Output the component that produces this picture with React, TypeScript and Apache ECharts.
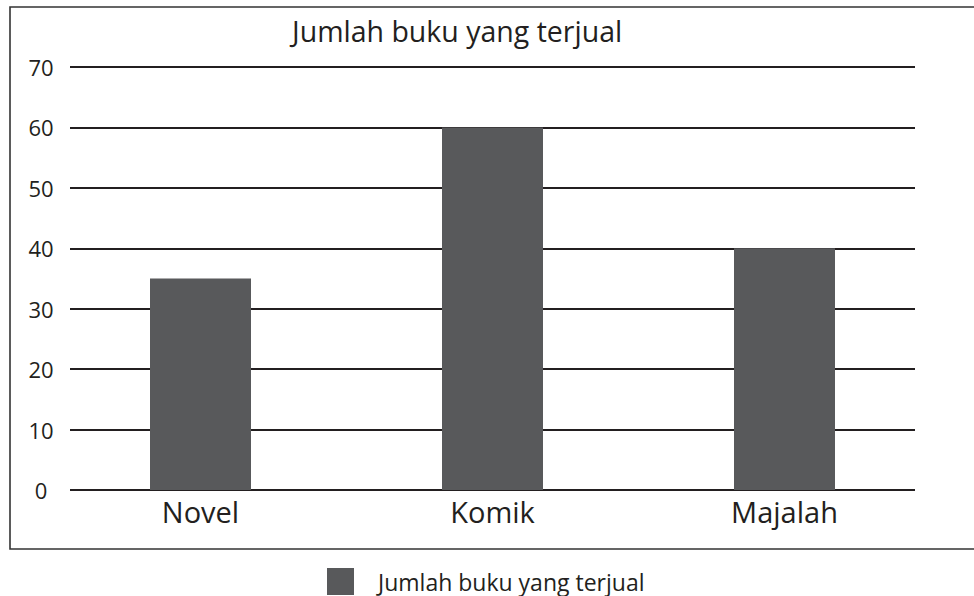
import React, { useEffect, useRef } from "react";
import * as echarts from "echarts";

const categories = ["Novel", "Komik", "Majalah"];
const values = [35, 60, 40];
const seriesName = "Jumlah buku yang terjual";
const titleText = "Jumlah buku yang terjual";
const yMin = 0;
const yMax = 70;
const yInterval = 10;

const FONT = "Open Sans";
const TEXT = "#231f20";
const BAR = "#58595b";

export default function App() {
  const ref = useRef<HTMLDivElement>(null);
  useEffect(() => {
    if (!ref.current) return;
    const chart = echarts.init(ref.current, undefined, { renderer: "svg" });
    chart.setOption({
      animation: false,
      backgroundColor: "#ffffff",
      textStyle: { fontFamily: FONT, color: TEXT },
      title: {
        text: titleText,
        left: 292,
        top: 16,
        padding: 0,
        textStyle: { fontFamily: FONT, fontSize: 28.5, fontWeight: "normal", color: TEXT },
      },
      legend: {
        data: [seriesName],
        left: 327,
        top: 568,
        padding: 0,
        icon: "rect",
        itemWidth: 27,
        itemHeight: 27,
        textStyle: { fontFamily: FONT, fontSize: 23, color: TEXT, padding: [0, 0, 0, 19] },
      },
      graphic: [
        {
          type: "rect",
          shape: { x: 10, y: 7, width: 990, height: 542 },
          style: { fill: "none", stroke: "#333333", lineWidth: 1.6 },
          silent: true,
          z: 0,
        },
      ],
      grid: [
        { left: 54.5, right: 43.5, top: 67, bottom: 106 },
        { left: 70, right: 59, top: 67, bottom: 106 },
      ],
      xAxis: [
        {
          type: "category",
          gridIndex: 0,
          data: categories,
          axisLine: { show: false },
          axisTick: { show: false },
          axisLabel: { fontFamily: FONT, fontSize: 29, color: TEXT, margin: 7 },
        },
        {
          type: "category",
          gridIndex: 1,
          data: categories,
          show: false,
        },
      ],
      yAxis: [
        {
          type: "value",
          gridIndex: 0,
          min: yMin,
          max: yMax,
          interval: yInterval,
          show: false,
          splitLine: { show: false },
        },
        {
          type: "value",
          gridIndex: 1,
          min: yMin,
          max: yMax,
          interval: yInterval,
          axisLine: { show: false },
          axisTick: { show: false },
          axisLabel: { fontFamily: FONT, fontSize: 22, color: TEXT, align: "center", margin: 29 },
          splitLine: { show: true, lineStyle: { color: TEXT, width: 2 } },
        },
      ],
      series: [
        {
          name: seriesName,
          type: "bar",
          xAxisIndex: 0,
          yAxisIndex: 0,
          data: values,
          barWidth: 101,
          itemStyle: { color: BAR },
          z: 3,
        },
      ],
    });
    return () => chart.dispose();
  }, []);
  return (
    <div
      ref={ref}
      style={{ position: "absolute", left: 0, top: 0, width: 974, height: 596 }}
    />
  );
}
